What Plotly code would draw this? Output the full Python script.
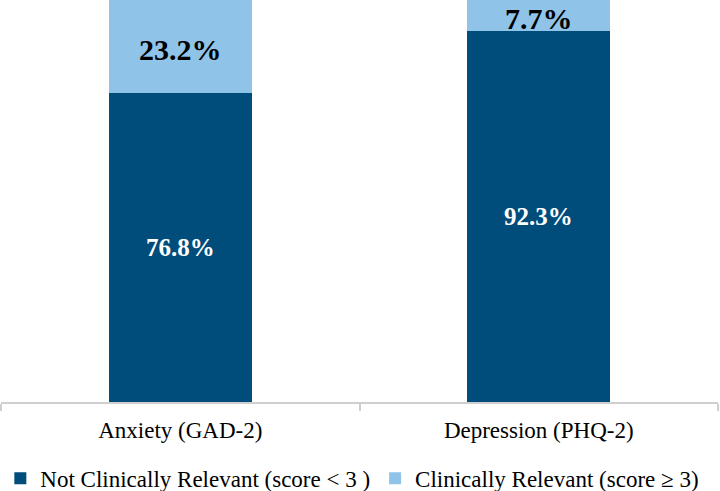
import plotly.graph_objects as go

categories = ["Anxiety (GAD-2)", "Depression (PHQ-2)"]
not_relevant = [76.8, 92.3]
relevant = [23.2, 7.7]
series_names = ["Not Clinically Relevant (score < 3 )", "Clinically Relevant (score \u2265 3)"]

DARK = "#004c7a"
LIGHT = "#8fc4e8"
FONT = "Liberation Serif, Times New Roman, serif"

fig = go.Figure()
fig.add_trace(go.Bar(x=categories, y=not_relevant, name=series_names[0],
                     marker=dict(color=DARK, line=dict(width=0))))
fig.add_trace(go.Bar(x=categories, y=relevant, name=series_names[1],
                     marker=dict(color=LIGHT, line=dict(width=0))))

annotations = []
for c, a, b in zip(categories, not_relevant, relevant):
    annotations.append(dict(x=c, y=a / 2, text=f"{a}%", showarrow=False,
                            font=dict(family=FONT, size=25, color="white", weight="bold")))
    annotations.append(dict(x=c, y=a + b / 2, text=f"{b}%", showarrow=False, yshift=-3,
                            font=dict(family=FONT, size=30, color="black", weight="bold")))

fig.update_layout(
    barmode="stack",
    bargap=0.6,
    width=720, height=491,
    margin=dict(l=1, r=2, t=0, b=89, pad=0, autoexpand=False),
    paper_bgcolor="white", plot_bgcolor="white",
    font=dict(family=FONT, size=23, color="black"),
    showlegend=True,
    legend=dict(orientation="h", x=0.49, xanchor="center", y=-0.19, yanchor="middle",
                font=dict(family=FONT, size=23, color="black"), traceorder="normal",
                itemwidth=30),
    annotations=annotations,
    xaxis=dict(range=[-0.5, 1.5], showline=True, linecolor="#cfcfcf", linewidth=1.5,
               ticks="outside", tickson="boundaries", ticklen=7, tickcolor="#cfcfcf",
               tickwidth=1.5, ticklabelstandoff=7, automargin=False,
               tickfont=dict(family=FONT, size=23, color="black"), showgrid=False),
    yaxis=dict(range=[0, 100], showticklabels=False, showgrid=False, zeroline=False,
               showline=False, ticks=""),
)

fig.write_html("out.html", config={"displayModeBar": False},
               post_script="document.body.style.margin='0';")
